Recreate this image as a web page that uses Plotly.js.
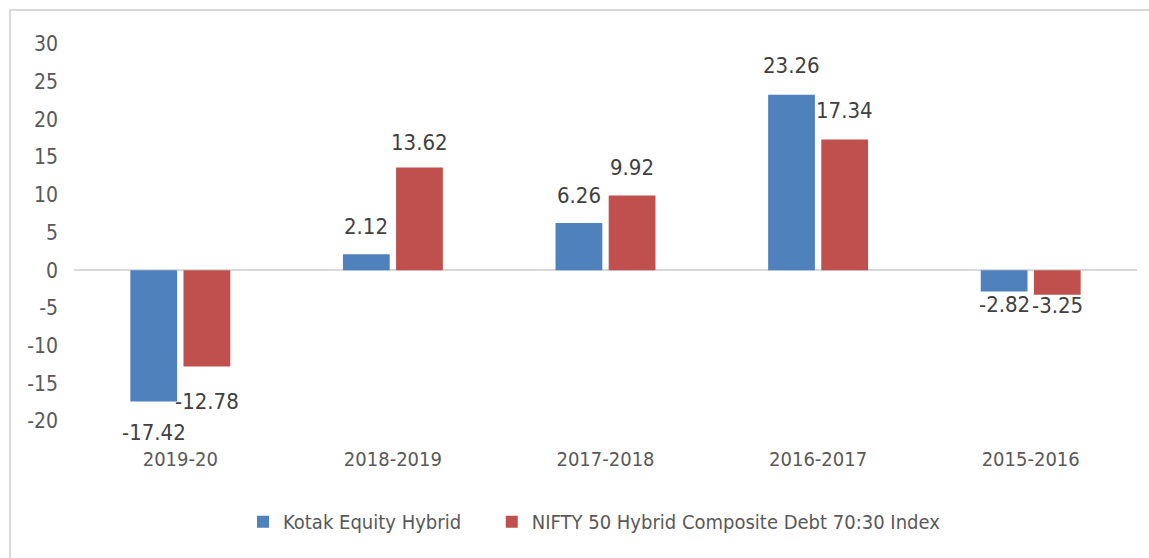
<!DOCTYPE html>
<html>
<head>
<meta charset="utf-8">
<script src="https://cdn.plot.ly/plotly-3.0.1.min.js"></script>
<style>
html,body{margin:0;padding:0;background:#fff;}
#chart{width:1149px;height:558px;}
</style>
</head>
<body>
<div id="chart"></div>
<script>
// ---- data ----
const categories = ["2019-20", "2018-2019", "2017-2018", "2016-2017", "2015-2016"];
const kotakValues = [-17.42, 2.12, 6.26, 23.26, -2.82];
const niftyValues = [-12.78, 13.62, 9.92, 17.34, -3.25];
const seriesNames = ["Kotak Equity Hybrid", "NIFTY 50 Hybrid Composite Debt 70:30 Index"];
const yTicks = [-20, -15, -10, -5, 0, 5, 10, 15, 20, 25, 30];

// ---- style ----
const FONT = '"DejaVu Sans Condensed", "Liberation Sans Narrow", sans-serif';
const TXT = '#595959';
const LABEL = '#404040';
const COLORS = ['#4F81BD', '#C0504D'];
// pixel gap between bar end and its value label (as placed in the original chart)
const labelGapKotak = [23, 20, 20, 22, 6];
const labelGapNifty = [27, 18, 20, 21, 3];

const W = 1149, H = 558;
const M = {l: 74, r: 12, t: 44, b: 137};
const BARGAP = 0.5, GROUPGAP = 0.12;

const data = [
  {type: 'bar', name: seriesNames[0], x: categories, y: kotakValues,
   marker: {color: COLORS[0]}, hoverinfo: 'x+y', legend: 'legend'},
  {type: 'bar', name: seriesNames[1], x: categories, y: niftyValues,
   marker: {color: COLORS[1]}, hoverinfo: 'x+y', legend: 'legend2'}
];

// value labels, anchored to each bar's value on the y scale and to its category
const catW = (W - M.l - M.r) / categories.length;
const slot = catW * (1 - BARGAP) / 2;
const annotations = [];
[[kotakValues, labelGapKotak, -slot / 2], [niftyValues, labelGapNifty, slot / 2]].forEach(([vals, gaps, dx]) => {
  vals.forEach((v, i) => {
    const pos = v >= 0;
    annotations.push({
      x: categories[i], y: v, xref: 'x', yref: 'y',
      text: v.toFixed(2),
      showarrow: false, xshift: dx, borderpad: 0,
      yanchor: pos ? 'bottom' : 'top',
      yshift: pos ? gaps[i] - 6 : -(gaps[i] - 6),
      font: {family: FONT, size: 22, color: LABEL}
    });
  });
});

const legendBase = {orientation: 'h', xanchor: 'left', y: -0.267, yanchor: 'middle',
                    font: {family: FONT, size: 20, color: TXT}, bgcolor: 'rgba(0,0,0,0)'};

const layout = {
  width: W, height: H,
  margin: M,
  paper_bgcolor: '#ffffff', plot_bgcolor: '#ffffff',
  font: {family: FONT, color: TXT},
  barmode: 'group', bargap: BARGAP, bargroupgap: GROUPGAP,
  showlegend: true,
  legend: Object.assign({x: 0.159}, legendBase),
  legend2: Object.assign({x: 0.393}, legendBase),
  xaxis: {type: 'category', showgrid: false, showline: false, zeroline: false, ticks: '',
          tickfont: {family: FONT, size: 20, color: TXT}, ticklabelstandoff: 24, fixedrange: true},
  yaxis: {range: [-20, 30], tickvals: yTicks, ticktext: yTicks.map(String),
          showgrid: false, showline: false,
          zeroline: true, zerolinecolor: '#d9d9d9', zerolinewidth: 1.5, ticks: '',
          tickfont: {family: FONT, size: 21, color: TXT}, ticklabelstandoff: 15, fixedrange: true},
  annotations: annotations,
  shapes: [{type: 'rect', xref: 'paper', yref: 'paper',
            x0: -0.0602, x1: 1.03, y0: -0.5, y1: 1.0902,
            line: {color: '#d9d9d9', width: 2}, fillcolor: 'rgba(0,0,0,0)', layer: 'below'}]
};

Plotly.newPlot('chart', data, layout, {displayModeBar: false, staticPlot: true});
</script>
</body>
</html>
